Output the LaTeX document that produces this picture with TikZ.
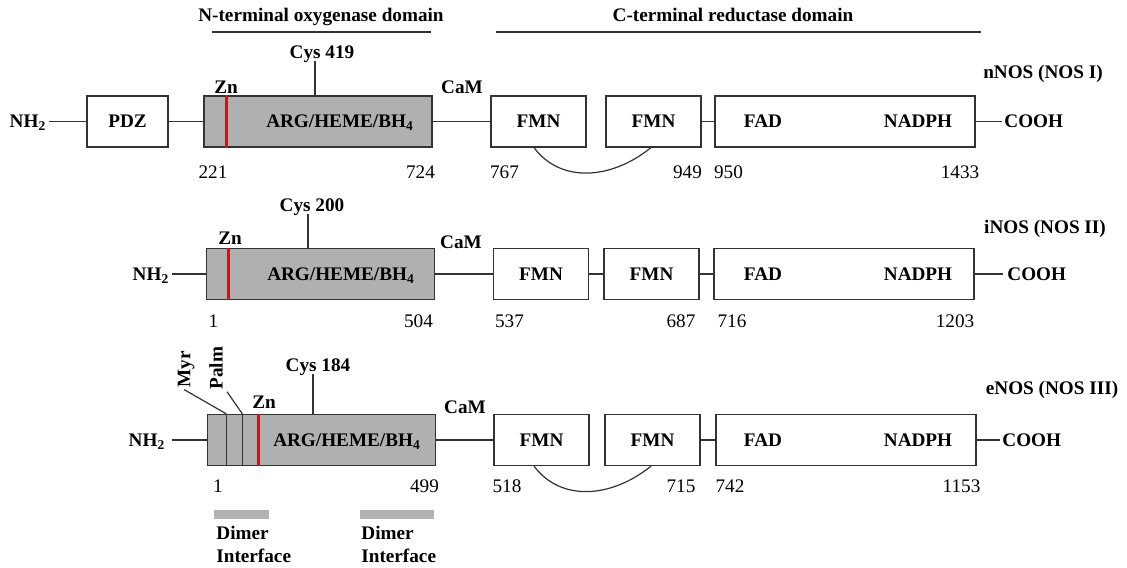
\documentclass[tikz,border=0pt]{standalone}
\usepackage{fontspec}
\setmainfont{Liberation Serif}

\begin{document}
\begin{tikzpicture}[
        x=0.5pt, y=-0.5pt,
        dom/.style={draw=black!80, fill=white, rectangle, line width=0.6pt, minimum height=25.5pt, inner sep=0pt, font=\fontsize{9.6}{11.5}\selectfont\bfseries},
        oxy/.style={dom, fill=black!31, minimum width=114pt},
        pdzbox/.style={dom, minimum width=40.5pt},
        fmn/.style={dom, minimum width=47.5pt},
        fad/.style={dom, minimum width=130pt},
        lbl/.style={font=\fontsize{9.6}{11.5}\selectfont\bfseries, inner sep=1pt, text depth=0pt},
        num/.style={font=\fontsize{9.6}{11.5}\selectfont, inner sep=1pt},
        link/.style={draw=black!80, line width=0.6pt},
        zn/.style={draw=red, line width=1.3pt},
        dimer/.style={fill=black!30}
    ]
    \useasboundingbox (0,0) rectangle (1127,567);

    % Domain headings
    \node[lbl] (nterm) at (321,15) {N-terminal oxygenase domain};
    \node[lbl] (cterm) at (733,15) {C-terminal reductase domain};
    \draw[link] (212,32) -- (431,32);
    \draw[link] (496,32) -- (981,32);

    % nNOS
    \node[lbl] (nnos) at (1043,72) {nNOS (NOS I)};
    \node[lbl] (nh21) at (28,121.5) {NH\textsubscript{2}};
    \node[pdzbox] (pdz1) at (127.5,121.5) {PDZ};
    \node[oxy] (arg1) at (318,121.5) {};
    \node[lbl] (argtxt1) at (340,121.5) {ARG/HEME/BH\textsubscript{4}};
    \node[fmn] (fmnA1) at (538.5,121.5) {FMN};
    \node[fmn] (fmnB1) at (653.5,121.5) {FMN};
    \node[fad] (fad1) at (845,121.5) {};
    \node[lbl] (fadtxt1) at (763,121.5) {FAD};
    \node[lbl] (nadph1) at (918,121.5) {NADPH};
    \node[lbl, anchor=west] (cooh1) at (1002,121.5) {COOH};
    \node[lbl] (zn1) at (226,87) {Zn};
    \node[lbl] (cys1) at (322,52) {Cys 419};
    \node[lbl] (cam1) at (462,87) {CaM};
    \node[num] (a1) at (213,172) {221};
    \node[num] (b1) at (420.5,172) {724};
    \node[num] (c1) at (504.5,172) {767};
    \node[num] (d1) at (687.5,172) {949};
    \node[num] (e1) at (728.5,172) {950};
    \node[num] (f1) at (960,172) {1433};

    \draw[link] (nh21) -- (pdz1);
    \draw[link] (pdz1) -- (arg1);
    \draw[link] (arg1) -- (fmnA1);
    \draw[link] (fmnB1) -- (fad1);
    \draw[link] (fad1) -- (cooh1);
    \draw[link] ([xshift=-2.25pt]fmnA1.south) .. controls +(26,35) and +(-41,33) .. ([xshift=-1.25pt]fmnB1.south);
    \draw[link] ([xshift=-3.5pt]cys1.south) -- ([xshift=-3.5pt]cys1.south |- arg1.north);
    \draw[zn] ([xshift=11.5pt]arg1.north west) -- ([xshift=11.5pt]arg1.south west);

    % iNOS
    \node[lbl] (inos) at (1045,227) {iNOS (NOS II)};
    \node[lbl] (nh22) at (151,274) {NH\textsubscript{2}};
    \node[oxy] (arg2) at (320.5,274) {};
    \node[lbl] (argtxt2) at (341,274) {ARG/HEME/BH\textsubscript{4}};
    \node[fmn] (fmnA2) at (541,274) {FMN};
    \node[fmn] (fmnB2) at (651.5,274) {FMN};
    \node[fad] (fad2) at (844,274) {};
    \node[lbl] (fadtxt2) at (763,274) {FAD};
    \node[lbl] (nadph2) at (918,274) {NADPH};
    \node[lbl, anchor=west, inner sep=2pt] (cooh2) at (1003,274) {COOH};
    \node[lbl] (zn2) at (230,238) {Zn};
    \node[lbl] (cys2) at (312,205) {Cys 200};
    \node[lbl] (cam2) at (461,242) {CaM};
    \node[num] (a2) at (213.5,321) {1};
    \node[num] (b2) at (418.5,321) {504};
    \node[num] (c2) at (509.5,321) {537};
    \node[num] (d2) at (681,321) {687};
    \node[num] (e2) at (732,321) {716};
    \node[num] (f2) at (955,321) {1203};

    \draw[link] (nh22) -- (arg2);
    \draw[link] (arg2) -- (fmnA2);
    \draw[link] (fmnA2) -- (fmnB2);
    \draw[link] (fmnB2) -- (fad2);
    \draw[link] (fad2) -- (cooh2);
    \draw[link] ([xshift=-2pt]cys2.south) -- ([xshift=-2pt]cys2.south |- arg2.north);
    \draw[zn] ([xshift=11.25pt]arg2.north west) -- ([xshift=11.25pt]arg2.south west);

    % eNOS
    \node[lbl] (enos) at (1052,388) {eNOS (NOS III)};
    \node[lbl, inner sep=3pt] (nh23) at (147,440) {NH\textsubscript{2}};
    \node[oxy] (arg3) at (321.5,440) {};
    \node[lbl] (argtxt3) at (347,440) {ARG/HEME/BH\textsubscript{4}};
    \node[fmn] (fmnA3) at (541.5,440) {FMN};
    \node[fmn] (fmnB3) at (652.5,440) {FMN};
    \node[fad] (fad3) at (846,440) {};
    \node[lbl] (fadtxt3) at (763,440) {FAD};
    \node[lbl] (nadph3) at (918,440) {NADPH};
    \node[lbl, anchor=west] (cooh3) at (1000,440) {COOH};
    \node[lbl] (zn3) at (264,402) {Zn};
    \node[lbl] (cys3) at (318,365) {Cys 184};
    \node[lbl] (cam3) at (465,407) {CaM};
    \node[lbl, rotate=90] (myr) at (184,369) {Myr};
    \node[lbl, rotate=90] (palm) at (216,368) {Palm};
    \node[num] (a3) at (218,486) {1};
    \node[num] (b3) at (424.5,486) {499};
    \node[num] (c3) at (507,486) {518};
    \node[num] (d3) at (681,486) {715};
    \node[num] (e3) at (730,486) {742};
    \node[num] (f3) at (961.5,486) {1153};

    \draw[link] (nh23) -- (arg3);
    \draw[link] (arg3) -- (fmnA3);
    \draw[link] (fmnB3) -- (fad3);
    \draw[link] (fad3) -- (cooh3);
    \draw[link] ([xshift=-3.75pt]fmnA3.south) .. controls +(26,35) and +(-41,33) .. ([xshift=-0.75pt]fmnB3.south);
    \draw[link] ([xshift=-2.5pt]cys3.south) -- ([xshift=-2.5pt]cys3.south |- arg3.north);
    \draw[link] ([xshift=9.75pt]arg3.north west) -- ([xshift=9.75pt]arg3.south west);
    \draw[link] ([xshift=17.75pt]arg3.north west) -- ([xshift=17.75pt]arg3.south west);
    \draw[link] (myr.west) -- ([xshift=9.75pt]arg3.north west);
    \draw[link] ([xshift=5.5pt]palm.west) -- ([xshift=17.75pt]arg3.north west);
    \draw[zn] ([xshift=25.75pt]arg3.north west) -- ([xshift=25.75pt]arg3.south west);

    % Dimer interfaces
    \fill[dimer] (214,510) rectangle (269,519);
    \fill[dimer] (360,510) rectangle (434,519);
    \node[lbl, anchor=north west, align=left, inner sep=0pt] (dimA) at (216,526) {Dimer\\Interface};
    \node[lbl, anchor=north west, align=left, inner sep=0pt] (dimB) at (361,526) {Dimer\\Interface};
\end{tikzpicture}
\end{document}
